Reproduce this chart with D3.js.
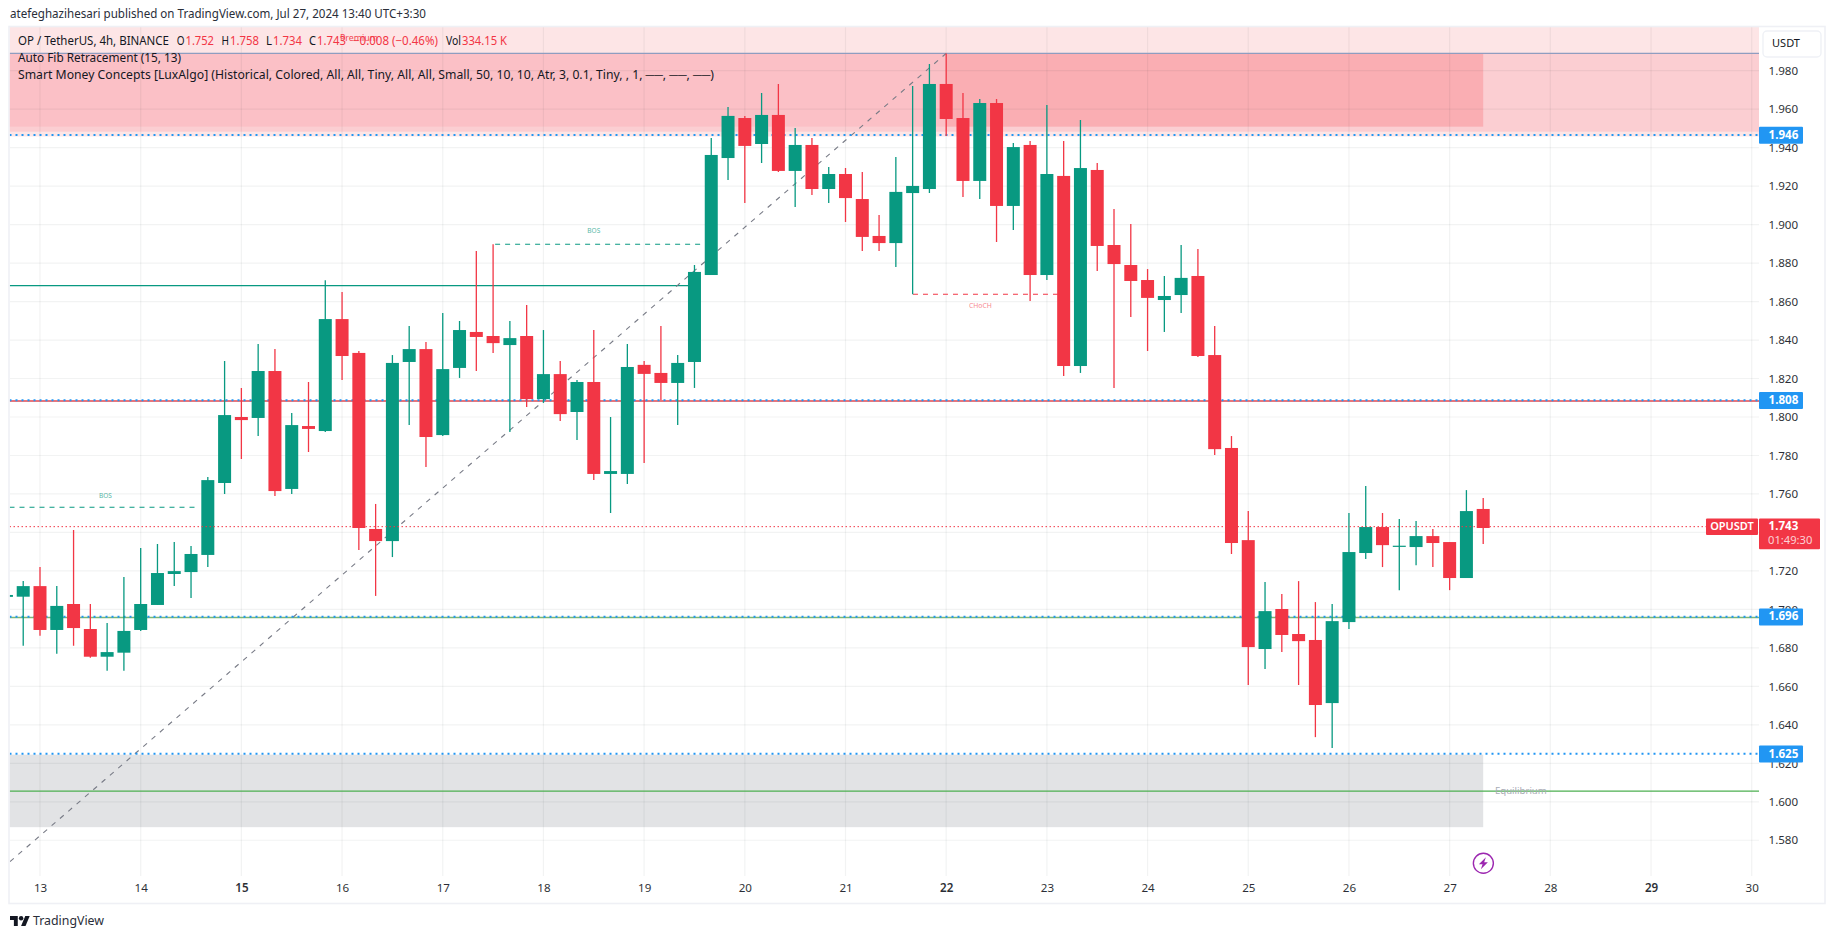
<!DOCTYPE html>
<html><head><meta charset="utf-8">
<script src="https://cdn.jsdelivr.net/npm/d3@7/dist/d3.min.js"></script>
<style>html,body{margin:0;background:#fff;overflow:hidden}svg{display:block}text{font-family:"Noto Sans",sans-serif}</style>
</head><body><svg id="c" width="1835" height="939"></svg>
<script>
// Candles are 4h bars; the first one is index firstBar from Jul 13 00:00.
const firstBar = -2, barsPerDay = 6;
const opens  = [1.7065,1.7066,1.7121,1.6893,1.7028,1.6898,1.6754,1.6775,1.6893,1.7023,1.7184,1.7194,1.7283,1.7657,1.8000,1.7995,1.8239,1.7626,1.7953,1.7927,1.8509,1.8333,1.7418,1.7355,1.8286,1.8353,1.7906,1.8255,1.8442,1.8421,1.8374,1.8421,1.8093,1.8223,1.8026,1.8182,1.7704,1.7704,1.8271,1.8229,1.8177,1.8286,1.8738,1.9346,1.9554,1.9419,1.9570,1.9279,1.9414,1.9185,1.9263,1.9133,1.8941,1.8904,1.9164,1.9185,1.9731,1.9554,1.9227,1.9632,1.9097,1.9414,1.8738,1.9253,1.8265,1.9284,1.8894,1.8790,1.8712,1.8608,1.8634,1.8733,1.8322,1.7839,1.7360,1.6794,1.7002,1.6872,1.6841,1.6513,1.6934,1.7293,1.7428,1.7326,1.7324,1.7381,1.7350,1.7163,1.7522];
const highs  = [1.7075,1.7147,1.7220,1.7121,1.7413,1.7028,1.6929,1.7168,1.7319,1.7340,1.7350,1.7329,1.7688,1.8291,1.8151,1.8379,1.8353,1.8021,1.8182,1.8711,1.8650,1.8343,1.7548,1.8322,1.8473,1.8390,1.8540,1.8499,1.8863,1.8898,1.8499,1.8582,1.8452,1.8291,1.8192,1.8452,1.8000,1.8380,1.8291,1.8473,1.8322,1.8790,1.9450,1.9611,1.9565,1.9684,1.9731,1.9502,1.9450,1.9300,1.9294,1.9274,1.9050,1.9351,1.9721,1.9835,1.9890,1.9684,1.9653,1.9653,1.9424,1.9435,1.9622,1.9435,1.9544,1.9320,1.9081,1.9003,1.8769,1.8733,1.8894,1.8873,1.8473,1.7901,1.7511,1.7142,1.7080,1.7147,1.7038,1.7028,1.7501,1.7641,1.7501,1.7470,1.7459,1.7418,1.7350,1.7620,1.7579];
const lows   = [1.7065,1.6811,1.6863,1.6770,1.6811,1.6749,1.6681,1.6681,1.6888,1.7023,1.7121,1.7059,1.7220,1.7600,1.7782,1.7901,1.7589,1.7600,1.7818,1.7922,1.8192,1.7309,1.7070,1.7272,1.7958,1.7740,1.7901,1.8203,1.8239,1.8333,1.7922,1.8052,1.8073,1.7979,1.7880,1.7672,1.7501,1.7652,1.7761,1.8089,1.7959,1.8151,1.8738,1.9232,1.9112,1.9320,1.9274,1.9092,1.9154,1.9112,1.9014,1.8863,1.8863,1.8780,1.8638,1.9164,1.9461,1.9144,1.9133,1.8910,1.8972,1.8603,1.8712,1.8213,1.8229,1.8759,1.8151,1.8520,1.8343,1.8442,1.8541,1.8312,1.7802,1.7288,1.6607,1.6690,1.6778,1.6607,1.6336,1.6279,1.6898,1.7262,1.7220,1.7100,1.7230,1.7220,1.7100,1.7163,1.7340];
const closes = [1.7075,1.7121,1.6893,1.7018,1.6903,1.6754,1.6778,1.6888,1.7028,1.7189,1.7199,1.7288,1.7672,1.8010,1.7984,1.8239,1.7615,1.7958,1.7938,1.8509,1.8317,1.7423,1.7355,1.8281,1.8353,1.7896,1.8249,1.8452,1.8416,1.8384,1.8410,1.8093,1.8223,1.8015,1.8182,1.7704,1.7719,1.8260,1.8224,1.8177,1.8281,1.8754,1.9362,1.9565,1.9409,1.9570,1.9279,1.9414,1.9185,1.9263,1.9138,1.8936,1.8904,1.9170,1.9201,1.9731,1.9549,1.9227,1.9632,1.9097,1.9403,1.8738,1.9263,1.8265,1.9294,1.8889,1.8795,1.8707,1.8619,1.8629,1.8723,1.8317,1.7833,1.7345,1.6804,1.6991,1.6867,1.6835,1.6503,1.6939,1.7298,1.7428,1.7334,1.7331,1.7381,1.7345,1.7163,1.7511,1.7423];

const priceTicks = [1.98,1.96,1.94,1.92,1.90,1.88,1.86,1.84,1.82,1.80,1.78,1.76,1.74,1.72,1.70,1.68,1.66,1.64,1.62,1.60,1.58];
const dayTicks = [13,14,15,16,17,18,19,20,21,22,23,24,25,26,27,28,29,30];
const boldDays = [15,22,29];

const blueLevels = [1.9466,1.8087,1.6962,1.6249];
const blueLabels = ["1.946","1.808","1.696","1.625"];
const lastPrice = 1.7430;
const symbol = "OPUSDT", countdown = "01:49:30";

const header = "atefeghazihesari published on TradingView.com, Jul 27, 2024 13:40 UTC+3:30";
const legendSmc = "Smart Money Concepts [LuxAlgo] (Historical, Colored, All, All, Tiny, All, All, Small, 50, 10, 10, Atr, 3, 0.1, Tiny, , 1, ──, ──, ──)";

const W=1835,H=939, L=9.5,R=1759,T=27,B=876;
const x = d3.scaleLinear().domain([13,30]).range([40,1751.7]);
const y = d3.scaleLinear().domain([1.98,1.62]).range([70.7,763.3]);
const bx = i => x(13+(i+firstBar)/barsPerDay);
const GREEN="#089981",RED="#f23645",BLUE="#2196f3",INK="#131722";
const svg = d3.select("#c");
svg.append("rect").attr("width",W).attr("height",H).attr("fill","#fff");

// pane clip
svg.append("defs").append("clipPath").attr("id","pane").append("rect").attr("x",L).attr("y",T).attr("width",R-L).attr("height",B-T);
const pane = svg.append("g").attr("clip-path","url(#pane)");

// zones (price + day domain)
function zone(d0,d1,p0,p1,fill){pane.append("rect").attr("x",x(d0)).attr("width",x(d1)-x(d0)).attr("y",y(p0)).attr("height",y(p1)-y(p0)).attr("fill",fill);}
const premiumTop=2.0040, premiumLine=1.9890, premiumEdge=1.9509, premiumMid=1.9483, premiumFar=1.9458;
const dStart=12, dEnd=31, dZoneEnd=13+86/6, dSwing=22;
zone(dStart,dEnd,premiumTop,premiumFar,"#fde5e6");
zone(dStart,dEnd,premiumLine,premiumMid,"#fbced2");
zone(dStart,dSwing,premiumLine,premiumEdge,"#fbc0c6");
zone(dSwing,dZoneEnd,premiumLine,premiumEdge,"#faaeb3");
zone(dStart,dZoneEnd,1.6245,1.5868,"#e2e3e5");

// grid
pane.selectAll("line.h").data(priceTicks).enter().append("line").attr("x1",L).attr("x2",R).attr("y1",d=>y(d)).attr("y2",d=>y(d)).attr("stroke","rgba(42,46,57,0.06)").attr("stroke-width",1.2);
pane.selectAll("line.v").data(dayTicks).enter().append("line").attr("y1",T).attr("y2",B).attr("x1",d=>x(d)).attr("x2",d=>x(d)).attr("stroke","rgba(42,46,57,0.06)").attr("stroke-width",1.2);

function hline(p,c,w,dash,d0,d1){const l=pane.append("line").attr("x1",d0==null?L:x(d0)).attr("x2",d1==null?R:x(d1)).attr("y1",y(p)).attr("y2",y(p)).attr("stroke",c).attr("stroke-width",w);if(dash)l.attr("stroke-dasharray",dash);return l;}
hline(premiumLine,"#8f9dc0",1.4);
hline(1.8083,"#e0474f",1.5);
hline(1.6958,"#7cb872",1.4);
hline(1.6055,"#4caf50",1.3);
hline(1.8683,GREEN,1.3,null,null,13+39/6-0.02);

// fib diagonal
const fibTimes=[13-30/100.69, 22], fibPrices=[1.5689,1.9890];
pane.append("line").attr("x1",x(fibTimes[0])).attr("y1",y(fibPrices[0])).attr("x2",x(fibTimes[1])).attr("y2",y(fibPrices[1])).attr("stroke","#787b86").attr("stroke-width",1.1).attr("stroke-dasharray","5,6");

// structure lines
hline(1.7531,GREEN,1.2,"5,5",null,14.57);
hline(1.8898,GREEN,1.2,"5,5",17.52,19.62);
hline(1.8638,RED,1.2,"5,5",21.67,23.12);

// blue levels
blueLevels.forEach(p=>hline(p,BLUE,2,"2,4"));

// candles
const idx = d3.range(opens.length);
pane.selectAll("line.w").data(idx).enter().append("line")
 .attr("x1",bx).attr("x2",bx).attr("y1",i=>y(highs[i])).attr("y2",i=>y(lows[i]))
 .attr("stroke",i=>closes[i]>=opens[i]?GREEN:RED).attr("stroke-width",1.3);
pane.selectAll("rect.b").data(idx).enter().append("rect")
 .attr("x",i=>bx(i)-6.5).attr("width",13)
 .attr("y",i=>y(Math.max(opens[i],closes[i])))
 .attr("height",i=>Math.max(1.2,Math.abs(y(opens[i])-y(closes[i]))))
 .attr("fill",i=>closes[i]>=opens[i]?GREEN:RED);

// last-price line
hline(lastPrice,RED,1,"1.5,2.5").attr("x2",1706);

// small annotations
function ann(d,p,s,c,fs,anchor,op){return svg.append("text").attr("x",x(d)).attr("y",y(p)).attr("fill",c).attr("font-size",fs).attr("text-anchor",anchor||"middle").attr("dominant-baseline","middle").attr("opacity",op==null?1:op).text(s);}
ann(13.65,1.7588,"BOS",GREEN,6.5,"middle",.7);
ann(18.5,1.8967,"BOS",GREEN,6.5,"middle",.7);
ann(22.34,1.8578,"CHoCH",RED,6.8,"middle",.6);
ann(27.45,1.6055,"Equilibrium","#a9acb6",9.6,"start");

// axes
const yAxis=d3.axisRight(y).tickValues(priceTicks).tickFormat(d3.format(".3f")).tickSize(0).tickPadding(9.5);
const gy=svg.append("g").attr("transform",`translate(${R},0)`).call(yAxis);
gy.select(".domain").remove();
gy.selectAll("text").attr("font-size",11.6).attr("fill",INK).attr("opacity",.9).style("font-family",'"Noto Sans",sans-serif');
const xAxis=d3.axisBottom(x).tickValues(dayTicks).tickFormat(d3.format("d")).tickSize(0).tickPadding(8);
const gx=svg.append("g").attr("transform",`translate(0,${B})`).call(xAxis);
gx.select(".domain").remove();
gx.selectAll("text").attr("font-size",11.6).attr("fill",INK).attr("opacity",.9).style("font-family",'"Noto Sans",sans-serif')
  .attr("font-weight",d=>boldDays.includes(d)?600:400);

// frame
svg.append("rect").attr("x",9).attr("y",26.5).attr("width",1816).attr("height",877).attr("fill","none").attr("stroke","#eff0f5").attr("stroke-width",1.6);

// USDT button
svg.append("rect").attr("x",1763).attr("y",31).attr("width",58).attr("height",26).attr("rx",4).attr("fill","#fff").attr("stroke","#eff1f6").attr("stroke-width",1.4);
svg.append("text").attr("x",1786).attr("y",44.5).attr("text-anchor","middle").attr("dominant-baseline","middle").attr("font-size",11).attr("fill",INK).text("USDT");

// price labels
blueLevels.forEach((p,i)=>{
  svg.append("rect").attr("x",R).attr("y",y(p)-8.3).attr("width",44).attr("height",17).attr("rx",1).attr("fill",BLUE);
  svg.append("text").attr("x",R+9.5).attr("y",y(p)+.5).attr("dominant-baseline","middle").attr("font-size",11.6).attr("font-weight",700).attr("fill","#fff").text(blueLabels[i]);
});
svg.append("rect").attr("x",1706).attr("y",y(lastPrice)-8.2).attr("width",52).attr("height",16.5).attr("rx",1).attr("fill",RED);
svg.append("text").attr("x",1732).attr("y",y(lastPrice)+.3).attr("text-anchor","middle").attr("dominant-baseline","middle").attr("font-size",11).attr("font-weight",600).attr("fill","#fff").text(symbol);
svg.append("rect").attr("x",R).attr("y",y(lastPrice)-8.2).attr("width",61).attr("height",30.7).attr("rx",1).attr("fill",RED);
svg.append("text").attr("x",R+9.5).attr("y",y(lastPrice)+.3).attr("dominant-baseline","middle").attr("font-size",11.6).attr("font-weight",700).attr("fill","#fff").text(lastPrice.toFixed(3));
svg.append("text").attr("x",R+9).attr("y",y(lastPrice)+14.5).attr("dominant-baseline","middle").attr("font-size",11.2).attr("fill","rgba(255,255,255,.78)").text(countdown);

// texts with exact extents
function fit(s,x0,x1,yy,c,fs,w){return svg.append("text").attr("x",x0).attr("y",yy).attr("textLength",x1-x0).attr("lengthAdjust","spacingAndGlyphs").attr("dominant-baseline","middle").attr("font-size",fs).attr("font-weight",w||400).attr("fill",c).text(s);}
fit(header,10,426,14.7,"#2a2e39",12);
const legendParts=[
 ["OP / TetherUS, 4h, BINANCE",18,169,INK],["O",176.7,184.5,INK],["1.752",185.5,214,RED],["H",221.5,229,INK],["1.758",230,259,RED],
 ["L",266,272,INK],["1.734",273,302,RED],["C",309,316,INK],["1.743",317,346,RED],["−0.008 (−0.46%)",353,438,RED],["Vol",446,461,INK],["334.15 K",462,507,RED]];
legendParts.forEach(d=>fit(d[0],d[1],d[2],41.7,d[3],11.8));
fit("Premium",340,378,38,RED,9.5).attr("opacity",.9);
fit("Auto Fib Retracement (15, 13)",18,181,59,INK,11.8);
fit(legendSmc,18,714,76,INK,11.8);

// lightning marker
const mark=svg.append("g").attr("transform",`translate(${x(27.335)},863.3)`);
mark.append("circle").attr("r",10).attr("fill","#fff").attr("stroke","#9c27b0").attr("stroke-width",1.4);
mark.append("path").attr("d","M2.5-6L-4.5 1H-.8L-2.5 6L4.5-1H.8z").attr("fill","#9c27b0");

// TradingView logo
const logo=svg.append("g").attr("transform","translate(10,913.8) scale(.555)").attr("fill","#131722");
logo.append("path").attr("d","M14 22H7V11H0V4h14v18z");
logo.append("circle").attr("cx",20).attr("cy",8).attr("r",4);
logo.append("path").attr("d","M28 22h-8l7.5-18h8L28 22z");
fit("TradingView",33,104,921.5,"#2a2e39",12.5);
</script></body></html>
